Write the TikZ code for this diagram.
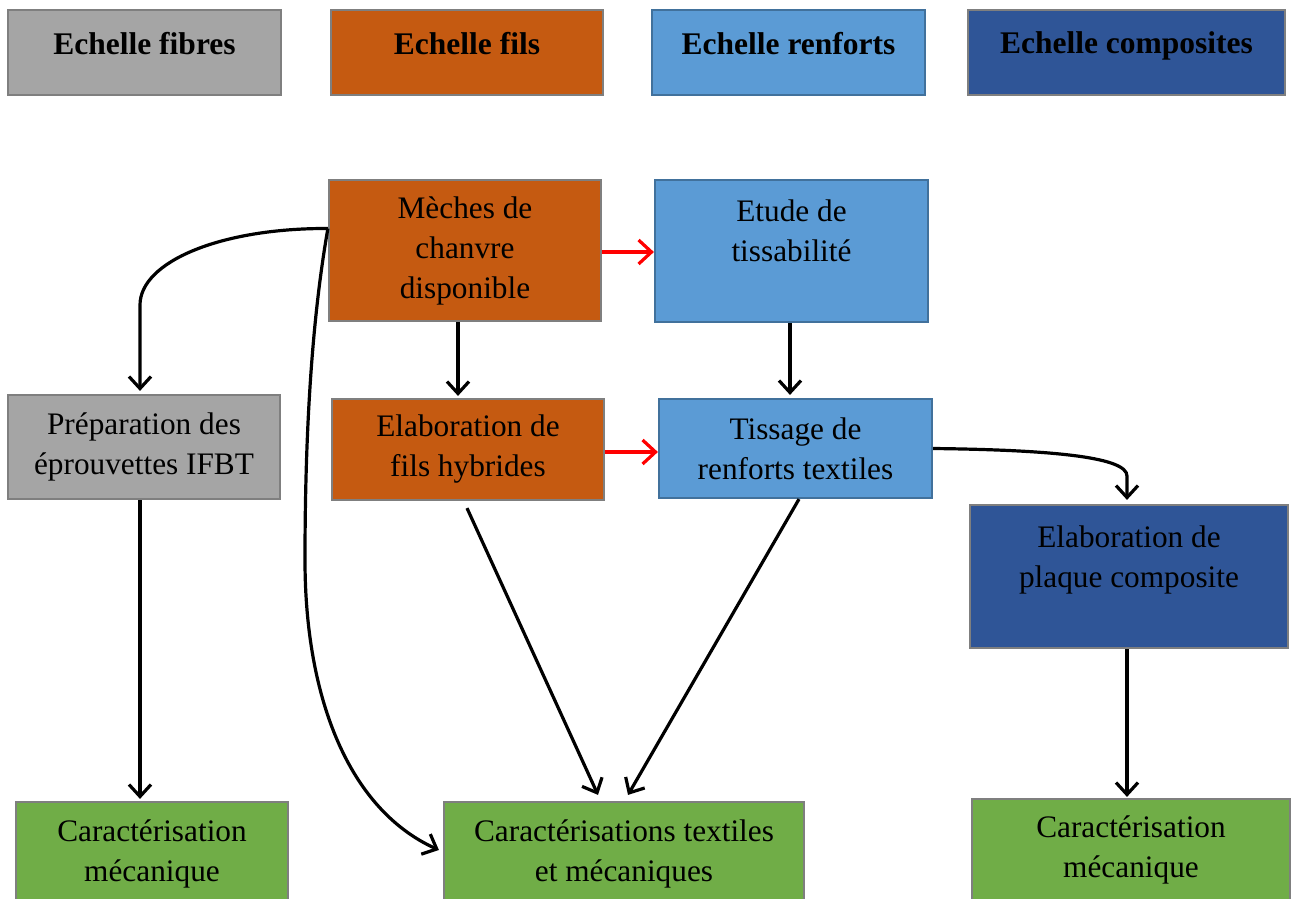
\documentclass[tikz,border=0pt]{standalone}
\usepackage{fontspec}
\setmainfont{Liberation Serif}
\usetikzlibrary{arrows.meta}
\definecolor{cgrey}{HTML}{A5A5A5}
\definecolor{corange}{HTML}{C55A11}
\definecolor{clblue}{HTML}{5B9BD5}
\definecolor{cdblue}{HTML}{2F5597}
\definecolor{cgreen}{HTML}{70AD47}
\definecolor{cborder}{HTML}{7F7F7F}
\definecolor{cbborder}{HTML}{41719C}
\begin{document}
\begin{tikzpicture}[x=1pt,y=-1pt,
  box/.style={draw=cborder, line width=2.2pt, inner sep=0pt, align=center,
    font=\fontsize{31.3}{40}\selectfont, text=black},
  hbox/.style={box, font=\fontsize{31.5}{40}\selectfont\bfseries, minimum height=85pt},
  arr/.style={line width=3.2pt, -{Straight Barb[length=12pt,width=22pt,line width=3.2pt]}},
  rarr/.style={line width=3.2pt, red, -{Straight Barb[length=13pt,width=24pt,line width=3.2pt]}}]
\useasboundingbox (0,0) rectangle (1291,899);
% header boxes
\node[hbox, fill=cgrey, minimum width=273pt] (hfib) at (144.5,52.5) {\raisebox{19pt}{Echelle fibres}};
\node[hbox, fill=corange, minimum width=272pt] (hfil) at (467,52.5) {\raisebox{19pt}{Echelle fils}};
\node[hbox, fill=clblue, draw=cbborder, minimum width=273pt] (hren) at (788.5,52.5) {\raisebox{19pt}{Echelle renforts}};
\node[hbox, fill=cdblue, minimum width=317pt] (hcom) at (1126.5,52.5) {\raisebox{19pt}{Echelle composites}};
% process boxes
\node[box, fill=corange, minimum width=272pt, minimum height=141pt] (meches) at (465,250.5) {Mèches de\\chanvre\\disponible};
\node[box, fill=clblue, draw=cbborder, minimum width=273pt, minimum height=142pt] (etude) at (791.5,251) {Etude de\\tissabilité\\\mbox{}};
\node[box, fill=cgrey, minimum width=272pt, minimum height=104pt] (prep) at (144,447) {Préparation des\\éprouvettes IFBT};
\node[box, fill=corange, minimum width=272pt, minimum height=101pt] (elabfils) at (468,449.5) {Elaboration de\\fils hybrides};
\node[box, fill=clblue, draw=cbborder, minimum width=273pt, minimum height=99pt] (tissage) at (795.5,448.5) {Tissage de\\renforts textiles};
\node[box, fill=cdblue, minimum width=318pt, minimum height=143pt] (plaque) at (1129,576.5) {Elaboration de\\plaque composite\\\mbox{}};
\node[box, fill=cgreen, minimum width=272pt, minimum height=104pt] (car1) at (152,854) {Caractérisation\\mécanique};
\node[box, fill=cgreen, minimum width=360pt, minimum height=104pt] (cartex) at (624,854) {Caractérisations textiles\\et mécaniques};
\node[box, fill=cgreen, minimum width=318pt, minimum height=102pt] (car3) at (1131,850) {Caractérisation\\mécanique};
% connectors
\draw[arr] ([yshift=22pt]meches.west) .. controls (220,228) and (140,262) .. (140,305) -- ([xshift=-4pt,yshift=3pt]prep.north);
\draw[arr] ([yshift=22pt]meches.west) .. controls (310,330) and (305,450) .. (305,560)
   .. controls (305,700) and (350,810) .. ([xshift=-4pt,yshift=4pt]cartex.west);
\draw[arr] ([xshift=-7pt]meches.south) -- ([xshift=-10pt,yshift=2pt]elabfils.north);
\draw[arr] ([xshift=-1.5pt]etude.south) -- ([xshift=-5.5pt,yshift=3pt]tissage.north);
\draw[rarr] ([yshift=-1.5pt]meches.east) -- ([yshift=-1pt]etude.west);
\draw[rarr] ([yshift=-2.5pt]elabfils.east) -- ([yshift=-3.5pt]tissage.west);
\draw[arr] ([xshift=-4pt]prep.south) -- ([xshift=-12pt,yshift=2pt]car1.north);
\draw[arr] ([xshift=-1pt,yshift=-7pt]elabfils.south) -- ([xshift=-26pt,yshift=6pt]cartex.north);
\draw[arr] ([xshift=3.5pt]tissage.south) -- ([xshift=4pt,yshift=6pt]cartex.north);
\draw[arr] ([xshift=-2pt]plaque.south) -- ([xshift=-4pt,yshift=1pt]car3.north);
\draw[arr] (tissage.east) .. controls (1060,450) and (1127,458) .. (1127,476) -- ([xshift=-2pt,yshift=4pt]plaque.north);
\end{tikzpicture}
\end{document}
